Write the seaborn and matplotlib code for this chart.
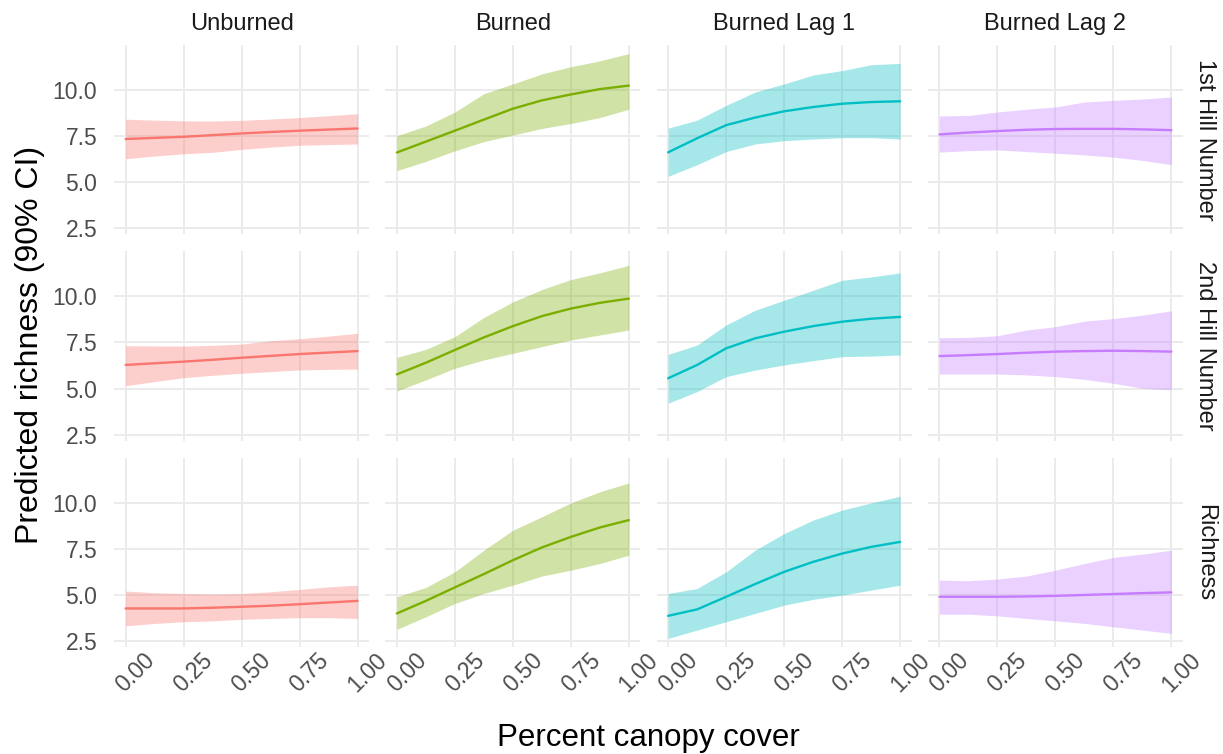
import matplotlib
matplotlib.use("Agg")
import matplotlib.pyplot as plt
import matplotlib.transforms as mtransforms
import numpy as np
import pandas as pd
import seaborn as sns

# Model predictions of richness along canopy cover, by fire treatment and diversity metric
treatments = ["Unburned", "Burned", "Burned Lag 1", "Burned Lag 2"]
metrics = ["1st Hill Number", "2nd Hill Number", "Richness"]
canopy = [0.0, 0.125, 0.25, 0.375, 0.5, 0.625, 0.75, 0.875, 1.0]
palette = ["#F8766D", "#7CAE00", "#00BFC4", "#C77CFF"]

hill1_fit = [
    [7.34, 7.40, 7.46, 7.55, 7.64, 7.72, 7.79, 7.85, 7.91],
    [6.61, 7.20, 7.79, 8.39, 8.98, 9.43, 9.75, 10.04, 10.23],
    [6.62, 7.38, 8.09, 8.50, 8.84, 9.07, 9.25, 9.34, 9.38],
    [7.59, 7.69, 7.77, 7.84, 7.88, 7.89, 7.89, 7.86, 7.82],
]
hill1_lower = [
    [6.27, 6.42, 6.54, 6.62, 6.78, 6.90, 7.00, 7.04, 7.07],
    [5.63, 6.13, 6.70, 7.20, 7.55, 7.91, 8.18, 8.50, 8.95],
    [5.32, 5.95, 6.66, 7.07, 7.25, 7.34, 7.41, 7.41, 7.34],
    [6.63, 6.71, 6.75, 6.66, 6.57, 6.48, 6.36, 6.18, 5.95],
]
hill1_upper = [
    [8.41, 8.36, 8.32, 8.31, 8.35, 8.42, 8.50, 8.60, 8.71],
    [7.52, 8.04, 8.80, 9.79, 10.32, 10.86, 11.25, 11.57, 11.96],
    [7.93, 8.36, 9.16, 9.88, 10.32, 10.80, 11.04, 11.36, 11.43],
    [8.59, 8.61, 8.80, 8.95, 9.07, 9.34, 9.43, 9.50, 9.61],
]

hill2_fit = [
    [6.28, 6.37, 6.46, 6.56, 6.67, 6.77, 6.87, 6.95, 7.03],
    [5.77, 6.40, 7.09, 7.77, 8.38, 8.92, 9.33, 9.64, 9.87],
    [5.56, 6.28, 7.18, 7.72, 8.08, 8.38, 8.62, 8.78, 8.88],
    [6.76, 6.81, 6.87, 6.94, 7.00, 7.03, 7.05, 7.03, 7.00],
]
hill2_lower = [
    [5.16, 5.38, 5.59, 5.72, 5.83, 5.92, 6.01, 6.04, 6.06],
    [4.87, 5.47, 6.10, 6.55, 6.91, 7.27, 7.63, 7.90, 8.17],
    [4.21, 4.84, 5.65, 6.00, 6.28, 6.51, 6.73, 6.76, 6.82],
    [5.79, 5.79, 5.79, 5.74, 5.65, 5.50, 5.29, 5.02, 4.93],
]
hill2_upper = [
    [7.32, 7.31, 7.30, 7.34, 7.41, 7.59, 7.70, 7.84, 7.99],
    [6.69, 7.12, 7.81, 8.85, 9.69, 10.36, 10.90, 11.26, 11.67],
    [6.85, 7.36, 8.44, 9.24, 9.78, 10.32, 10.86, 11.04, 11.26],
    [7.75, 7.77, 7.86, 8.17, 8.35, 8.65, 8.79, 8.97, 9.21],
]

rich_fit = [
    [4.27, 4.27, 4.27, 4.31, 4.36, 4.42, 4.50, 4.59, 4.68],
    [4.00, 4.68, 5.41, 6.13, 6.88, 7.57, 8.14, 8.65, 9.05],
    [3.87, 4.22, 4.90, 5.59, 6.25, 6.79, 7.24, 7.60, 7.87],
    [4.90, 4.90, 4.90, 4.92, 4.95, 5.00, 5.05, 5.10, 5.14],
]
rich_lower = [
    [3.33, 3.46, 3.55, 3.60, 3.68, 3.73, 3.77, 3.77, 3.73],
    [3.14, 3.82, 4.54, 5.08, 5.53, 6.02, 6.34, 6.70, 7.15],
    [2.65, 3.10, 3.55, 4.00, 4.45, 4.76, 4.99, 5.26, 5.53],
    [3.96, 3.96, 3.87, 3.73, 3.60, 3.46, 3.28, 3.10, 2.92],
]
rich_upper = [
    [5.21, 5.12, 5.08, 5.05, 5.08, 5.17, 5.30, 5.44, 5.53],
    [4.90, 5.41, 6.25, 7.42, 8.50, 9.23, 9.98, 10.58, 11.06],
    [5.08, 5.35, 6.25, 7.42, 8.32, 9.05, 9.59, 9.98, 10.34],
    [5.80, 5.77, 5.86, 6.02, 6.34, 6.70, 7.03, 7.21, 7.42],
]

y_ticks = [2.5, 5.0, 7.5, 10.0]
y_ticklabels = ["2.5", "5.0", "7.5", "10.0"]
x_ticks = [0.0, 0.25, 0.5, 0.75, 1.0]
x_ticklabels = ["0.00", "0.25", "0.50", "0.75", "1.00"]

# Long table for faceting
rows = []
series = {
    metrics[0]: (hill1_fit, hill1_lower, hill1_upper),
    metrics[1]: (hill2_fit, hill2_lower, hill2_upper),
    metrics[2]: (rich_fit, rich_lower, rich_upper),
}
for metric, (fit, lo, hi) in series.items():
    for ti, trt in enumerate(treatments):
        for xi, x in enumerate(canopy):
            rows.append({"metric": metric, "treatment": trt, "canopy": x,
                         "fit": fit[ti][xi], "lower": lo[ti][xi], "upper": hi[ti][xi]})
df = pd.DataFrame(rows)

sns.set_theme(style="white")
plt.rcParams["font.family"] = ["Liberation Sans", "DejaVu Sans"]
plt.rcParams["axes.edgecolor"] = "none"
plt.rcParams["axes.grid"] = True
plt.rcParams["grid.color"] = "#EBEBEB"
plt.rcParams["grid.linewidth"] = 1.4

g = sns.FacetGrid(df, row="metric", col="treatment", hue="treatment",
                  row_order=metrics, col_order=treatments, hue_order=treatments,
                  palette=palette, sharex=True, sharey=True, despine=False,
                  height=2.0, aspect=1.3)


def ribbon(data, color=None, **kws):
    ax = plt.gca()
    ax.fill_between(data["canopy"], data["lower"], data["upper"],
                    color=color, alpha=0.35, linewidth=0, zorder=2)


g.map_dataframe(ribbon)
g.map_dataframe(sns.lineplot, x="canopy", y="fit", errorbar=None,
                linewidth=1.7, zorder=3)

fig = g.figure
fig.set_size_inches(12.23, 7.54)
W, H = 1223, 754
fig.subplots_adjust(left=114 / W, right=1183 / W, top=1 - 45 / H, bottom=1 - 647 / H,
                    wspace=0.063, hspace=0.09)

tick_shift = mtransforms.ScaledTranslation(10 / 100, 0, fig.dpi_scale_trans)

g.set_titles("")
for ri, metric in enumerate(metrics):
    for ci, trt in enumerate(treatments):
        ax = g.axes[ri, ci]
        ax.set_xlabel("")
        ax.set_ylabel("")
        ax.set_xticks(x_ticks)
        ax.set_yticks(y_ticks)
        ax.grid(True, color="#EBEBEB", linewidth=1.4, zorder=0)
        ax.set_axisbelow(True)
        ax.tick_params(length=0, labelsize=16.5, labelcolor="#4D4D4D", pad=3)
        ax.tick_params(axis="y", pad=12)
        if ci == 0:
            ax.set_yticklabels(y_ticklabels)
        if ri == len(metrics) - 1:
            ax.set_xticklabels(x_ticklabels, rotation=45, ha="center")
            ax.tick_params(axis="x", labelbottom=True, pad=1)
            for lab in ax.get_xticklabels():
                lab.set_transform(lab.get_transform() + tick_shift)
        if ri == 0:
            ax.set_title(trt, fontsize=17, color="#1A1A1A", pad=11)
        if ci == len(treatments) - 1:
            ax.text(1.086, 0.5, metric, rotation=270, transform=ax.transAxes,
                    ha="center", va="center", fontsize=17, color="#1A1A1A")
        leg = ax.get_legend()
        if leg is not None:
            leg.remove()

fig.text(30 / W, 1 - 345 / H, "Predicted richness (90% CI)", rotation=90,
         ha="center", va="center", fontsize=23, color="black")
fig.text(648 / W, 1 - 738 / H, "Percent canopy cover",
         ha="center", va="center", fontsize=22.5, color="black")

fig.savefig("out.png", dpi=100, facecolor="white")
